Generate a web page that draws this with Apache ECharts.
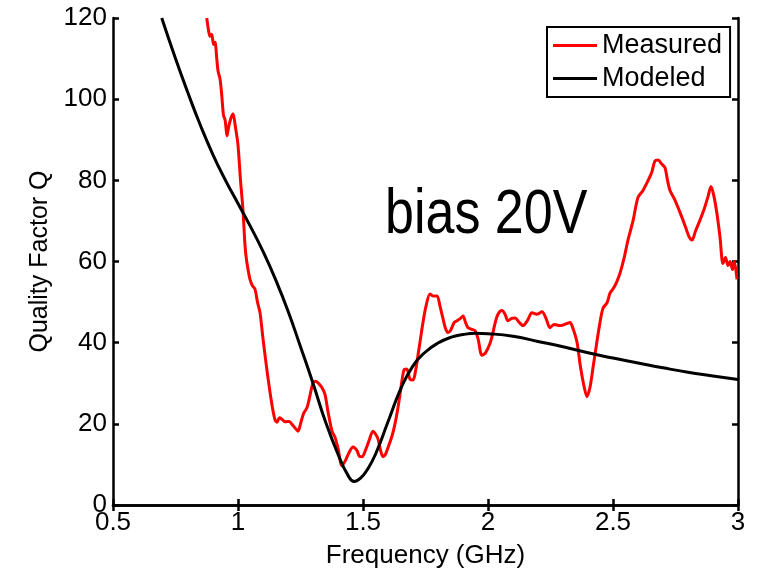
<!DOCTYPE html>
<html><head><meta charset="utf-8">
<script src="https://cdn.jsdelivr.net/npm/echarts@6/dist/echarts.min.js"></script>
<style>html,body{margin:0;padding:0;background:#fff}#c{width:758px;height:574px}</style>
</head><body><div id="c"></div>
<script>
var measuredName = 'Measured';
var modeledName = 'Modeled';
var annotation = 'bias 20V';
var xTitle = 'Frequency (GHz)';
var yTitle = 'Quality Factor Q';

var measured = [[0.875,120],[0.882,117],[0.888,115.5],[0.895,116],[0.902,113.5],[0.908,114],[0.915,110],[0.92,107],[0.928,105],[0.935,101],[0.942,96],[0.948,95],[0.952,93],[0.956,91],[0.962,93],[0.97,95],[0.98,96.4],[0.99,93],[1.0,88.7],[1.01,80],[1.02,72.6],[1.028,64],[1.035,60],[1.048,55.6],[1.058,54],[1.068,53.2],[1.078,50],[1.088,47.4],[1.10,41],[1.11,36],[1.12,31.3],[1.135,25],[1.148,21],[1.156,20.4],[1.166,21.5],[1.176,21.1],[1.19,20.5],[1.205,20.6],[1.216,19.9],[1.228,19],[1.24,18.2],[1.25,20],[1.262,22.5],[1.276,24],[1.288,27],[1.30,30.1],[1.31,30.5],[1.32,30.1],[1.335,29],[1.348,27.2],[1.36,23],[1.376,18.2],[1.388,16.7],[1.40,14],[1.416,9.7],[1.43,11],[1.445,13],[1.46,14.3],[1.475,13.5],[1.486,12],[1.496,11.9],[1.51,13.5],[1.525,16],[1.54,18.2],[1.55,17.5],[1.56,16.3],[1.57,13.5],[1.58,11.9],[1.59,12.5],[1.605,15],[1.616,17],[1.628,20],[1.64,24],[1.652,29],[1.664,33.3],[1.675,33.5],[1.688,31],[1.70,30.8],[1.71,33],[1.72,36.9],[1.73,41],[1.74,45],[1.752,49],[1.768,52],[1.78,51.5],[1.796,51.5],[1.808,49],[1.82,45.9],[1.83,43.5],[1.84,42.5],[1.85,43],[1.865,45],[1.876,45.4],[1.89,46],[1.90,46.6],[1.91,45],[1.92,43.7],[1.935,43.3],[1.948,43],[1.96,41],[1.976,36.9],[1.99,37.5],[2.008,39.8],[2.018,42],[2.028,44.7],[2.04,47],[2.056,47.9],[2.068,47],[2.08,45.4],[2.095,46],[2.108,46.1],[2.125,45],[2.14,44.2],[2.158,45.5],[2.176,47.4],[2.195,47],[2.216,47.6],[2.232,46],[2.248,43.7],[2.265,44.5],[2.288,44.2],[2.31,44.6],[2.328,45],[2.34,43.5],[2.356,40.1],[2.37,34],[2.385,29],[2.396,26.7],[2.408,29],[2.42,33.8],[2.435,40],[2.448,45],[2.46,48.5],[2.476,49.8],[2.488,52.2],[2.50,53.2],[2.515,55],[2.528,57.1],[2.545,61],[2.56,65.3],[2.58,70],[2.60,75.8],[2.62,77.5],[2.64,79.9],[2.655,82],[2.668,84.8],[2.68,85],[2.695,84],[2.708,83.1],[2.718,80],[2.728,77.5],[2.745,75.5],[2.768,72.1],[2.79,68.5],[2.805,66],[2.816,65.3],[2.83,67.5],[2.848,70.2],[2.865,73],[2.88,76],[2.892,78.5],[2.904,76],[2.916,71.7],[2.928,66],[2.94,59.5],[2.95,61],[2.96,59],[2.968,60],[2.978,58],[2.985,60],[2.996,55.6]];

var modeled = [[0.695,120],[0.75,110],[0.80,101.5],[0.85,93.5],[0.90,86.3],[0.95,80],[1.00,74.3],[1.05,68.6],[1.10,62.5],[1.15,55.6],[1.20,47.8],[1.25,39],[1.30,30],[1.35,20.5],[1.40,12.5],[1.44,7.3],[1.465,5.8],[1.49,6.6],[1.52,9],[1.55,12.5],[1.60,20.5],[1.65,28.5],[1.70,34.3],[1.75,37.7],[1.80,39.9],[1.85,41.3],[1.90,42],[1.95,42.3],[2.00,42.2],[2.10,41.6],[2.20,40.3],[2.30,39],[2.40,37.5],[2.50,36.2],[2.60,35],[2.70,33.8],[2.80,32.7],[2.90,31.8],[3.00,30.9]];

var FONT = '"Liberation Sans", Arial, sans-serif';
var chart = echarts.init(document.getElementById('c'));
var axisLine = {show: true, lineStyle: {color: '#000', width: 2.5}};
var tick = {show: true, inside: true, length: 6, lineStyle: {color: '#000', width: 2.5}};
chart.setOption({
  animation: false,
  backgroundColor: '#fff',
  grid: {left: 113, right: 20, top: 18, bottom: 62, containLabel: false},
  legend: {
    orient: 'vertical', left: 547, top: 27,
    data: [measuredName, modeledName],
    icon: 'rect', itemWidth: 44, itemHeight: 3, itemGap: 6,
    padding: [5, 8, 5, 6],
    borderColor: '#000', borderWidth: 2, backgroundColor: '#fff',
    textStyle: {fontFamily: FONT, fontSize: 27, color: '#000'}
  },
  xAxis: [{
    type: 'value', min: 0.5, max: 3, interval: 0.5,
    name: xTitle, nameLocation: 'middle', nameGap: 38,
    nameTextStyle: {fontFamily: FONT, fontSize: 26, color: '#000'},
    axisLine: axisLine, axisTick: tick,
    axisLabel: {fontFamily: FONT, fontSize: 26, color: '#000', margin: 5},
    splitLine: {show: false}
  }, {
    type: 'value', min: 0.5, max: 3, interval: 0.5, position: 'top',
    axisLine: axisLine, axisTick: tick,
    axisLabel: {show: false}, splitLine: {show: false}
  }],
  yAxis: [{
    type: 'value', min: 0, max: 120, interval: 20,
    name: yTitle, nameLocation: 'middle', nameGap: 56, nameRotate: 90,
    nameTextStyle: {fontFamily: FONT, fontSize: 25, color: '#000'},
    axisLine: axisLine, axisTick: tick,
    axisLabel: {fontFamily: FONT, fontSize: 26, color: '#000', margin: 6},
    splitLine: {show: false}
  }, {
    type: 'value', min: 0, max: 120, interval: 20, position: 'right',
    axisLine: axisLine, axisTick: tick,
    axisLabel: {show: false}, splitLine: {show: false}
  }],
  graphic: [{
    type: 'text', x: 385, y: 216, scaleY: 1.2,
    style: {text: annotation, font: '52px "Liberation Sans", Arial, sans-serif', fill: '#000',
            textAlign: 'left', textVerticalAlign: 'middle', verticalAlign: 'middle'}
  }],
  series: [{
    name: measuredName, type: 'line', data: measured, showSymbol: false, smooth: 0.3,
    lineStyle: {color: '#ff0000', width: 3}, itemStyle: {color: '#ff0000'}, clip: true
  }, {
    name: modeledName, type: 'line', data: modeled, showSymbol: false, smooth: 0.5,
    lineStyle: {color: '#000', width: 3}, itemStyle: {color: '#000'}, clip: true
  }]
});
</script></body></html>
